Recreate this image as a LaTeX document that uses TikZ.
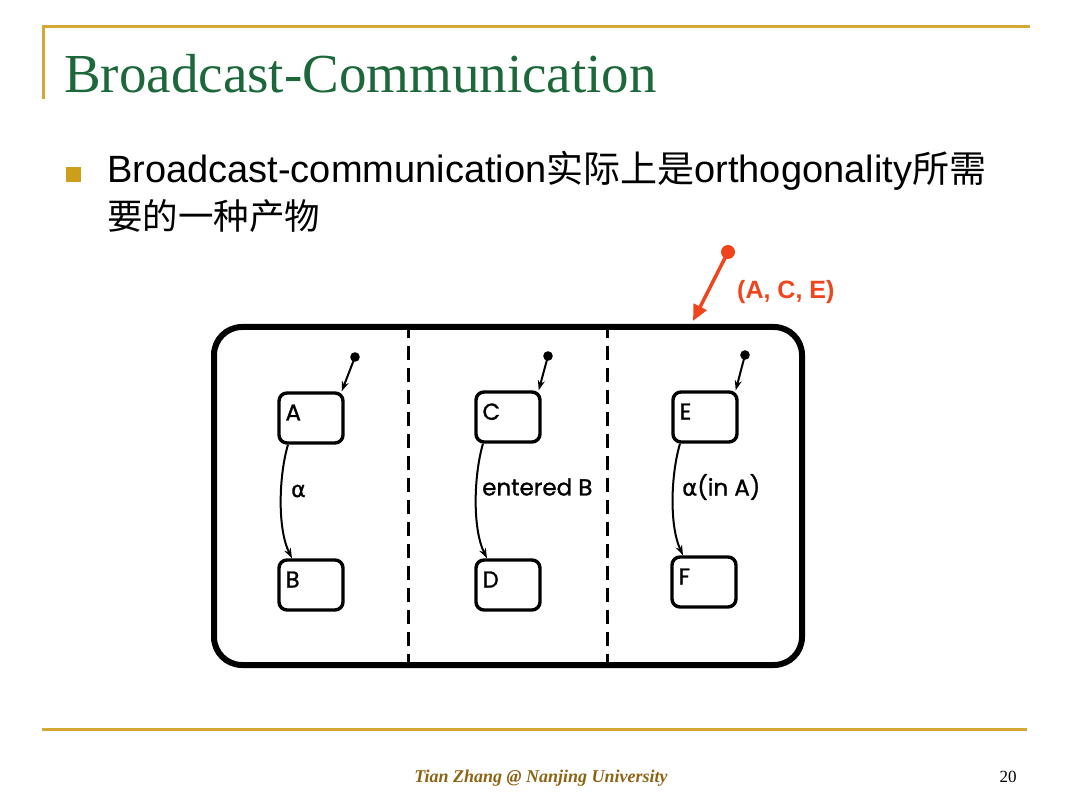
\documentclass[tikz,border=0pt]{standalone}
\usepackage{fontspec}
\setmainfont{Liberation Serif}
\newfontfamily\arial{Liberation Sans}
\newfontfamily\cjk{Noto Sans CJK SC}
\newfontfamily\geo[FakeBold=1.2]{Poppins}
\newfontfamily\dvs[FakeBold=1.2]{DejaVu Sans}
\usetikzlibrary{arrows.meta,calc}
\definecolor{goldline}{RGB}{212,168,50}
\definecolor{goldbul}{RGB}{204,158,26}
\definecolor{titlegreen}{RGB}{28,104,58}
\definecolor{footbrown}{RGB}{140,100,20}
\definecolor{hotred}{RGB}{240,68,28}
\begin{document}
\begin{tikzpicture}[x=1pt,y=-1pt,
  rule/.style={draw=goldline,line width=3pt},
  stbox/.style={draw,line width=3.4pt,rounded corners=8pt,minimum width=64pt,minimum height=50pt,inner sep=0pt},
  sysbox/.style={draw,line width=6pt,rounded corners=28pt,minimum width=588pt,minimum height=338pt,inner sep=0pt},
  lbl/.style={font=\geo\fontsize{23}{23}\selectfont,inner sep=0pt},
  trans/.style={line width=2pt,-{Stealth[length=10pt,width=7pt]}},
  divider/.style={line width=3pt,dash pattern=on 14pt off 8pt},
  redarr/.style={draw=hotred,line width=3.5pt,-{Triangle[length=16pt,width=14pt]}}
]
\useasboundingbox (0,0) rectangle (1080,810);
% header rules
\coordinate (tl) at (43,27);
\coordinate (tr) at (1030,27);
\coordinate (tb) at (43,99);
\draw[rule] (tb) -- (tl) -- (tr);
% title
\node[anchor=base west,inner sep=0pt,text=titlegreen,font=\fontsize{55}{60}\selectfont] (title) at (64,93) {Broadcast-Communication};
% bullet
\node[fill=goldbul,minimum size=15pt,inner sep=0pt] (bsq) at (73.5,174.5) {};
\node[anchor=base west,inner sep=0pt,font=\fontsize{38}{44}\selectfont] (bul1) at (107,183)
  {{\arial Broadcast-communication}{\cjk\fontsize{37}{44}\selectfont 实际上是}{\arial orthogonality}{\cjk\fontsize{37}{44}\selectfont 所需}};
\node[anchor=base west,inner sep=0pt,font=\cjk\fontsize{35.5}{44}\selectfont] (bul2) at (107,230) {要的一种产物};
% system box
\node[sysbox] (sys) at (508,496) {};
\coordinate (d1a) at (408,324);
\coordinate (d1b) at (408,668);
\coordinate (d2a) at (607,324);
\coordinate (d2b) at (607,668);
\draw[divider] (d1a) -- (d1b);
\draw[divider] (d2a) -- (d2b);
% states
\node[stbox,label={[lbl,anchor=north west,xshift=8pt,yshift=-13pt]north west:A}] (A) at (311,418) {};
\node[stbox,label={[lbl,anchor=north west,xshift=8pt,yshift=-13pt]north west:B}] (B) at (311,585) {};
\node[stbox,label={[lbl,anchor=north west,xshift=8pt,yshift=-13pt]north west:C}] (C) at (508,417) {};
\node[stbox,label={[lbl,anchor=north west,xshift=8pt,yshift=-13pt]north west:D}] (D) at (508,585) {};
\node[stbox,label={[lbl,anchor=north west,xshift=8pt,yshift=-13pt]north west:E}] (E) at (705,417) {};
\node[stbox,label={[lbl,anchor=north west,xshift=8pt,yshift=-13pt]north west:F}] (F) at (704,582) {};
% initial arrows
\coordinate (iA) at (355,357);
\coordinate (iC) at (548,356);
\coordinate (iE) at (745,355);
\foreach \p/\s in {iA/A,iC/C,iE/E}{
  \fill (\p) circle (4.8pt);
  \draw[trans] (\p) -- ([xshift=-3pt]\s.north east);
}
% transitions
\draw[trans] ([xshift=-23pt]A.south) .. controls ($(A.south)+(-32,30)$) and ($(B.north)+(-34,-30)$) .. ([xshift=-19pt]B.north);
\draw[trans] ([xshift=-25pt]C.south) .. controls ($(C.south)+(-34,30)$) and ($(D.north)+(-36,-30)$) .. ([xshift=-21pt]D.north);
\draw[trans] ([xshift=-25pt]E.south) .. controls ($(E.south)+(-34,30)$) and ($(F.north)+(-35,-30)$) .. ([xshift=-21pt]F.north);
\node[lbl,anchor=west,font=\dvs\fontsize{22}{22}\selectfont] (la) at (291,491) {α};
\node[lbl,anchor=west] (lb) at (482,487) {entered B};
\node[lbl,anchor=west] (lc) at (682,487) {{\dvs α}(in A)};
% red annotation
\coordinate (rdot) at (728,252);
\coordinate (rtip) at (693,321);
\fill[hotred] (rdot) circle (7pt);
\draw[redarr] (rdot) -- (rtip);
\node[anchor=west,inner sep=0pt,text=hotred,font=\arial\bfseries\fontsize{25}{25}\selectfont] (ace) at (737,292) {(A, C, E)};
% footer
\coordinate (fl) at (42,729);
\coordinate (fr) at (1027,729);
\draw[rule] (fl) -- (fr);
\node[anchor=base,inner sep=0pt,text=footbrown,font=\bfseries\itshape\fontsize{18}{18}\selectfont] (foot) at (541,782) {Tian Zhang @ Nanjing University};
\node[anchor=base,inner sep=0pt,font=\fontsize{17}{17}\selectfont] (pg) at (1008,782) {20};
\end{tikzpicture}
\end{document}
